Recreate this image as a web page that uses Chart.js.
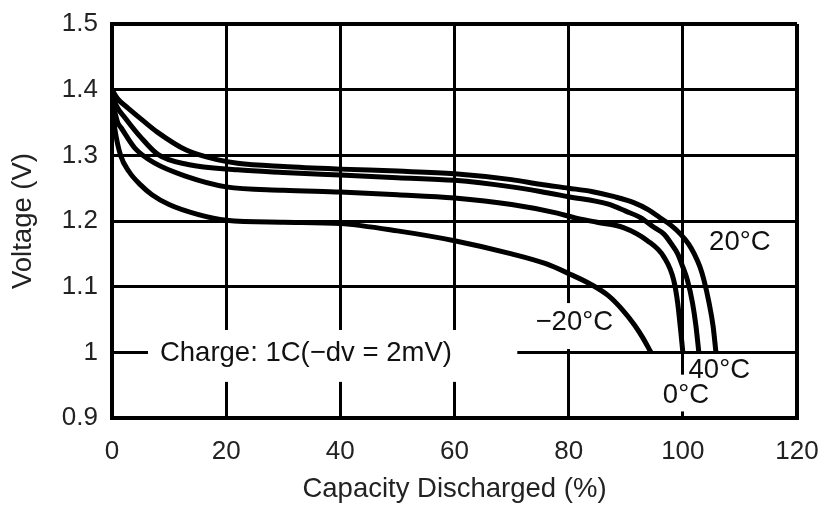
<!DOCTYPE html>
<html>
<head>
<meta charset="utf-8">
<script src="https://cdn.jsdelivr.net/npm/chart.js@4.4.1/dist/chart.umd.min.js"></script>
<style>
  html, body { margin: 0; padding: 0; background: #fff; }
  #wrap { width: 822px; height: 506px; }
</style>
</head>
<body>
<div id="wrap"><canvas id="descarga" width="822" height="506"></canvas></div>
<script>
// curvas de descarga (capacidad %, voltaje V)
const cap_20 = [0, 1, 2.8, 5, 8, 13, 18.6, 22, 30, 40, 50, 60, 70, 75, 80, 84, 88, 91.4, 94, 96, 98, 99.6, 101, 102, 103, 103.7, 104.6, 105.3, 105.8];
const volt_20 = [1.4, 1.386, 1.372, 1.356, 1.335, 1.308, 1.293, 1.288, 1.283, 1.279, 1.276, 1.272, 1.263, 1.256, 1.25, 1.245, 1.237, 1.228, 1.217, 1.205, 1.193, 1.18, 1.165, 1.15, 1.13, 1.11, 1.075, 1.04, 1.0];

const cap_40 = [0, 0.8, 2.3, 5.1, 8.1, 13.3, 22, 30, 40, 50, 60, 70, 75, 80, 86.8, 90, 92.6, 95, 96.7, 98, 99.1, 100, 100.8, 101.7, 102.3, 102.8];
const volt_40 = [1.395, 1.375, 1.357, 1.327, 1.301, 1.286, 1.278, 1.274, 1.27, 1.266, 1.262, 1.252, 1.245, 1.237, 1.226, 1.215, 1.205, 1.19, 1.18, 1.165, 1.15, 1.13, 1.11, 1.075, 1.04, 1.0];

const cap_0 = [0, 1, 1.6, 4, 7.5, 13, 20, 30, 40, 50, 60, 70, 78, 81, 85, 89.6, 93.8, 96.7, 98.4, 99.1, 99.6, 100];
const volt_0 = [1.385, 1.35, 1.342, 1.311, 1.288, 1.268, 1.252, 1.247, 1.244, 1.24, 1.235, 1.225, 1.212, 1.205, 1.198, 1.19, 1.17, 1.145, 1.11, 1.075, 1.035, 1.0];

const cap_m20 = [0, 0.5, 1.5, 3, 5, 7, 10, 15, 20, 30, 40, 50, 60, 70, 76, 80, 84, 87, 89.5, 91.5, 93, 94.4];
const volt_m20 = [1.375, 1.34, 1.3, 1.275, 1.255, 1.24, 1.225, 1.21, 1.201, 1.198, 1.196, 1.185, 1.17, 1.15, 1.135, 1.12, 1.103, 1.086, 1.064, 1.042, 1.022, 1.0];

const series_labels = ["20°C", "40°C", "0°C", "\u221220°C"];
const x_ticks = [0, 20, 40, 60, 80, 100, 120];
const y_ticks = [0.9, 1, 1.1, 1.2, 1.3, 1.4, 1.5];

// textos dentro del grafico (en coordenadas de datos)
const notas = [
  { texto: "Charge: 1C(\u2212dv = 2mV)", x: 8.4, y: 0.998 },
  { texto: "20°C", x: 104.6, y: 1.168 },
  { texto: "\u221220°C", x: 74.2, y: 1.045 },
  { texto: "40°C", x: 101, y: 0.973 },
  { texto: "0°C", x: 96.5, y: 0.935 },
];
// zonas donde la rejilla queda interrumpida por los textos
const huecos = [
  { x0: 6.3, x1: 71, y0: 1.034, y1: 0.955 },
  { x0: 74, x1: 88, y0: 1.075, y1: 1.005 },
  { x0: 96, x1: 104, y0: 0.966, y1: 0.91 },
];

const juntar = (xs, ys) => xs.map((v, i) => ({ x: v, y: ys[i] }));

const plugin_notas = {
  id: "notas",
  beforeDatasetsDraw(chart) {
    const { ctx, scales: { x, y } } = chart;
    ctx.save();
    ctx.fillStyle = "#fff";
    huecos.forEach((h) => {
      const px0 = x.getPixelForValue(h.x0);
      const px1 = x.getPixelForValue(h.x1);
      const py0 = y.getPixelForValue(h.y0);
      const py1 = y.getPixelForValue(h.y1);
      ctx.fillRect(px0, py0, px1 - px0, py1 - py0);
    });
    ctx.restore();
  },
  afterDatasetsDraw(chart) {
    const { ctx, scales: { x, y } } = chart;
    ctx.save();
    ctx.fillStyle = "#111";
    ctx.font = '27.5px "Liberation Sans", Arial, sans-serif';
    ctx.textAlign = "left";
    ctx.textBaseline = "middle";
    notas.forEach((n) => {
      ctx.fillText(n.texto, x.getPixelForValue(n.x), y.getPixelForValue(n.y));
    });
    ctx.restore();
  },
};

const estilo_linea = {
  borderColor: "#000",
  borderWidth: 5,
  pointRadius: 0,
  fill: false,
  cubicInterpolationMode: "monotone",
};

const ctx = document.getElementById("descarga").getContext("2d");
const chart_descarga = new Chart(ctx, {
  type: "line",
  data: {
    datasets: [
      { label: series_labels[0], data: juntar(cap_20, volt_20), ...estilo_linea },
      { label: series_labels[1], data: juntar(cap_40, volt_40), ...estilo_linea },
      { label: series_labels[2], data: juntar(cap_0, volt_0), ...estilo_linea },
      { label: series_labels[3], data: juntar(cap_m20, volt_m20), ...estilo_linea },
    ],
  },
  options: {
    responsive: false,
    animation: false,
    devicePixelRatio: 1,
    layout: { padding: { top: 24, right: 25, left: 0, bottom: 0 } },
    plugins: {
      legend: { display: false },
      tooltip: { enabled: false },
    },
    scales: {
      x: {
        type: "linear",
        min: 0,
        max: 120,
        afterBuildTicks: (scale) => {
          scale.ticks = x_ticks.map((v) => ({ value: v }));
        },
        afterFit: (scale) => {
          scale.height = 88;
          scale.paddingLeft = 0;
          scale.paddingRight = 0;
        },
        grid: {
          color: "#000",
          lineWidth: (c) => (c.tick && c.tick.value === 120 ? 4 : 3),
          drawTicks: false,
        },
        border: { color: "#000", width: 4 },
        ticks: {
          color: "#222",
          padding: 18,
          font: { family: '"Liberation Sans", Arial, sans-serif', size: 26 },
          maxRotation: 0,
        },
        title: {
          display: true,
          text: "Capacity Discharged (%)",
          color: "#222",
          font: { family: '"Liberation Sans", Arial, sans-serif', size: 27.5 },
          padding: { top: 0, bottom: 0 },
        },
      },
      y: {
        type: "linear",
        min: 0.9,
        max: 1.5,
        afterBuildTicks: (scale) => {
          scale.ticks = y_ticks.map((v) => ({ value: v }));
        },
        afterFit: (scale) => {
          scale.width = 112;
          scale.paddingTop = 0;
          scale.paddingBottom = 0;
        },
        grid: {
          color: "#000",
          lineWidth: (c) => (c.tick && c.tick.value === 1.5 ? 4 : 3),
          drawTicks: false,
        },
        border: { color: "#000", width: 4 },
        ticks: {
          color: "#222",
          padding: 14,
          font: { family: '"Liberation Sans", Arial, sans-serif', size: 26 },
          callback: (value) => String(Number(value.toFixed(1))),
        },
        title: {
          display: true,
          text: "Voltage (V)",
          color: "#222",
          font: { family: '"Liberation Sans", Arial, sans-serif', size: 27.5 },
          padding: { top: 7, bottom: 0 },
        },
      },
    },
  },
  plugins: [plugin_notas],
});
</script>
</body>
</html>
